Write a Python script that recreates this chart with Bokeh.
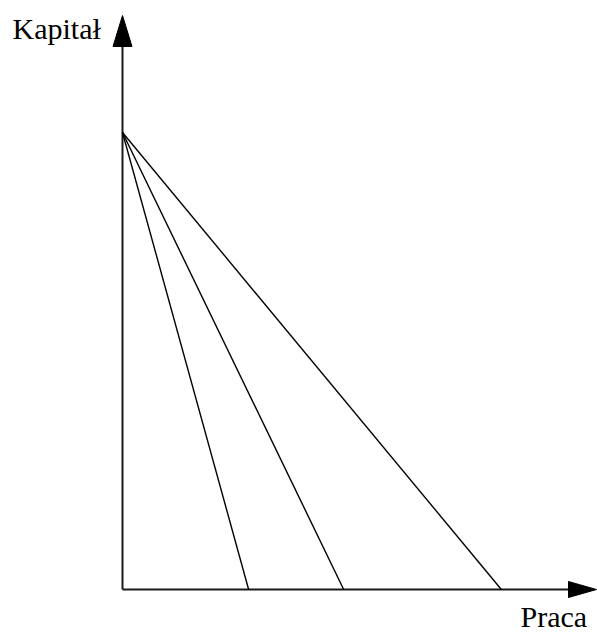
from bokeh.plotting import figure
from bokeh.models import Range1d, Label
from bokeh.embed import file_html
from bokeh.resources import INLINE

# --- data (economic units) ---
capital_intercept = 10.0                 # where all budget lines meet the capital axis
labour_intercepts = [2.76, 4.84, 8.29]   # where each line meets the labour axis
x_label = "Praca"
y_label = "Kapitał"

# --- layout constants (pixels) ---
W, H = 597, 637
OX, OY = 122, 48          # origin position: px from left, px from bottom
S = 45.7                  # px per data unit
FONT = "Liberation Serif"

p = figure(width=W, height=H, output_backend="svg", toolbar_location=None,
           x_range=Range1d(-OX / S, (W - OX) / S),
           y_range=Range1d(-OY / S, (H - OY) / S),
           x_axis_type=None, y_axis_type=None,
           min_border=0, outline_line_color=None)
p.grid.visible = False
p.background_fill_color = "white"
p.border_fill_color = "white"

# axis arrows
y_tip = (H - 15 - OY) / S
y_head_len = 31 / S
y_head_half = 9.5 / S
x_tip = (W - 1 - OX) / S
x_head_len = 28 / S
x_head_half = 8 / S

p.segment(x0=[0, 0], y0=[0, 0], x1=[0, x_tip - x_head_len], y1=[y_tip - y_head_len, 0],
          line_color="#1a1a1a", line_width=2)
p.patch(x=[0, -y_head_half, y_head_half], y=[y_tip, y_tip - y_head_len, y_tip - y_head_len],
        fill_color="black", line_color="black", line_width=1)
p.patch(x=[x_tip, x_tip - x_head_len, x_tip - x_head_len], y=[0, x_head_half, -x_head_half],
        fill_color="black", line_color="black", line_width=1)

# budget / isocost lines
n = len(labour_intercepts)
p.segment(x0=[0] * n, y0=[capital_intercept] * n, x1=labour_intercepts, y1=[0] * n,
          line_color="black", line_width=1.4)

# labels
p.add_layout(Label(x=12, y=H - 28, x_units="screen", y_units="screen", text=y_label,
                   text_font=FONT, text_font_size="30px", text_color="black",
                   text_baseline="alphabetic"))
p.add_layout(Label(x=520, y=H - 616, x_units="screen", y_units="screen", text=x_label,
                   text_font=FONT, text_font_size="30px", text_color="black",
                   text_baseline="alphabetic"))

open("out.html", "w").write(file_html(p, INLINE))
